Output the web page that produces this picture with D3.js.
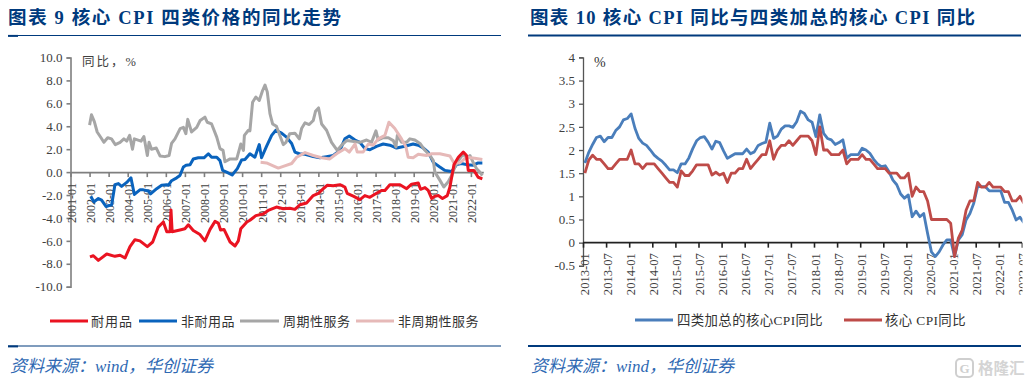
<!DOCTYPE html>
<html><head><meta charset="utf-8">
<script src="https://cdn.jsdelivr.net/npm/d3@7"></script>
<style>
html,body{margin:0;padding:0;background:#fff;overflow:hidden}
svg{display:block}
text{font-family:"Liberation Serif","Noto Sans CJK SC",serif}
</style></head><body><div id="c"></div>
<script>
// ---------- left chart: readings as [decimal year] + [YoY %]
const durableT=[2002.02,2002.2,2002.46,2002.9,2003.33,2003.6,2003.86,2004.12,2004.38,2004.64,2005.03,2005.31,2005.6,2005.87,2006.05,2006.22,2006.27,2006.33,2006.74,2007.0,2007.18,2007.44,2007.79,2008.05,2008.32,2008.58,2008.75,2008.87,2009.05,2009.37,2009.63,2009.8,2009.93,2010.25,2010.41,2010.72,2011.1,2011.37,2011.8,2012.16,2012.5,2012.77,2013.03,2013.38,2013.73,2014.0,2014.26,2014.46,2014.78,2015.13,2015.39,2015.51,2015.83,2016.18,2016.44,2016.7,2017.05,2017.31,2017.49,2017.75,2018.28,2018.63,2018.89,2019.24,2019.36,2019.59,2019.76,2019.94,2020.11,2020.29,2020.51,2020.76,2020.9,2021.11,2021.34,2021.6,2021.77,2021.86,2022.16,2022.38,2022.6];
const durableV=[-7.4,-7.3,-7.7,-7.15,-7.35,-7.25,-7.5,-6.5,-5.9,-6.0,-6.5,-6.1,-4.8,-4.35,-5.2,-5.2,-3.3,-5.2,-5.05,-4.95,-4.6,-5.1,-5.45,-6.0,-5.0,-4.3,-4.45,-5.05,-5.0,-6.1,-6.45,-6.0,-4.95,-4.35,-4.2,-3.8,-3.65,-3.35,-3.05,-3.2,-3.15,-3.25,-2.85,-2.7,-2.05,-1.85,-1.45,-1.15,-1.2,-1.1,-1.3,-1.85,-2.1,-2.4,-2.05,-2.2,-1.85,-1.6,-1.6,-1.1,-1.1,-1.45,-1.05,-0.95,-1.5,-1.35,-1.6,-2.3,-2.1,-2.05,-2.3,-2.05,-1.3,0.65,1.3,1.75,1.45,0.15,0.15,-0.45,-0.6];
const nonDurableT=[2002.06,2002.23,2002.46,2002.63,2002.86,2003.16,2003.33,2003.51,2003.68,2003.95,2004.17,2004.35,2004.64,2004.82,2005.08,2005.2,2005.52,2005.78,2006.05,2006.13,2006.3,2006.57,2006.74,2006.92,2007.06,2007.27,2007.44,2007.7,2008.0,2008.23,2008.4,2008.67,2008.84,2008.98,2009.19,2009.48,2009.75,2009.97,2010.15,2010.41,2010.67,2010.9,2011.02,2011.28,2011.55,2011.77,2012.07,2012.33,2012.6,2012.77,2013.0,2013.3,2013.73,2014.08,2014.43,2014.78,2015.13,2015.39,2015.62,2015.92,2016.18,2016.44,2016.7,2017.05,2017.4,2017.75,2018.1,2018.54,2018.97,2019.24,2019.5,2019.76,2020.03,2020.37,2020.64,2020.99,2021.25,2021.51,2021.77,2022.12,2022.38,2022.6];
const nonDurableV=[-2.1,-2.6,-2.3,-2.45,-3.0,-2.85,-1.1,-1.0,-1.25,-0.9,-0.5,-1.95,-1.55,-1.55,-1.65,-1.9,-1.45,-1.15,-1.1,-1.15,-0.75,-0.5,-0.3,0.45,0.6,0.65,1.15,1.25,1.25,1.6,1.3,1.3,1.0,0.15,0,-0.25,0.3,1.05,1.1,1.6,1.3,2.4,1.25,2.25,3.2,3.65,3.4,3.05,2.5,1.75,1.6,1.55,1.35,1.25,1.35,1.45,1.9,2.9,3.15,2.8,2.6,2.05,1.95,2.25,2.45,2.35,2.1,2.25,2.45,2.35,2.1,1.75,0.85,0.45,0.15,0.05,0.65,0.75,0.65,0.6,0.8,0.8];
const cyclicalT=[2002.0,2002.1,2002.25,2002.4,2002.6,2002.75,2002.95,2003.15,2003.35,2003.6,2003.8,2003.95,2004.1,2004.25,2004.35,2004.7,2004.85,2005.03,2005.12,2005.25,2005.5,2005.7,2005.95,2006.17,2006.3,2006.48,2006.75,2006.92,2007.05,2007.15,2007.35,2007.62,2007.8,2008.05,2008.17,2008.4,2008.67,2008.84,2009.0,2009.1,2009.37,2009.72,2009.93,2010.07,2010.12,2010.33,2010.41,2010.55,2010.72,2010.9,2011.07,2011.2,2011.32,2011.46,2011.6,2011.8,2011.98,2012.16,2012.3,2012.5,2012.77,2013.0,2013.12,2013.3,2013.52,2013.73,2013.85,2014.01,2014.17,2014.43,2014.69,2014.99,2015.22,2015.48,2016.18,2016.53,2016.79,2017.02,2017.14,2017.4,2017.67,2017.93,2018.07,2018.14,2018.36,2018.63,2018.8,2019.06,2019.33,2019.59,2019.85,2020.03,2020.11,2020.37,2020.58,2020.81,2020.99,2021.16,2021.34,2021.6,2021.77,2021.95,2022.16,2022.3,2022.47,2022.6];
const cyclicalV=[4.1,5.0,4.4,3.5,3.0,2.6,3.0,2.9,2.4,2.6,2.9,2.7,3.2,2.0,2.9,2.7,3.1,1.45,2.6,2.0,2.1,1.4,1.35,1.45,2.5,2.9,3.8,3.9,3.35,4.6,3.5,3.9,4.5,4.8,4.35,4.2,3.05,2.05,1.9,0.9,1.15,1.15,2.45,1.9,3.2,3.65,3.6,6.1,6.55,6.25,7.1,7.6,7.0,5.1,4.2,4.0,3.2,2.4,2.6,3.35,3.4,2.9,3.8,4.3,4.15,4.5,5.3,5.6,4.2,3.65,2.6,1.9,2.35,2.75,2.6,2.8,2.6,3.6,2.8,3.0,3.0,2.75,2.2,3.2,2.6,2.6,2.9,2.8,2.5,1.9,1.45,1.0,0,-0.7,-1.3,-0.85,-0.3,0.45,1.0,1.6,1.15,1.45,0.7,0.3,0,-0.3];
const nonCyclicalT=[2010.97,2011.28,2011.63,2011.9,2012.16,2012.6,2012.86,2013.3,2013.73,2014.17,2014.6,2014.95,2015.39,2015.62,2015.92,2016.04,2016.35,2016.62,2016.88,2017.14,2017.49,2017.7,2018.01,2018.36,2018.59,2018.71,2018.97,2019.24,2019.67,2019.94,2020.37,2020.9,2021.11,2021.42,2021.77,2022.2,2022.6];
const nonCyclicalV=[0.85,0.8,0.55,0.35,0.5,0.75,1.3,1.7,1.45,1.25,1.15,1.6,2.05,1.75,2.45,1.75,1.75,2.45,2.35,2.9,3.2,4.35,3.8,2.9,2.2,1.3,1.25,1.55,1.45,1.6,1.6,1.4,0.8,0.8,1.3,1.2,1.1];
const leftYTicks=[10,8,6,4,2,0,-2,-4,-6,-8,-10];
const leftYears=d3.range(2001,2023);
const leftLegend=["耐用品","非耐用品","周期性服务","非周期性服务"];

// ---------- right chart: monthly from 2013-01
const fourTypeCore=[1.72,1.95,2.12,2.27,2.3,2.18,2.27,2.27,2.42,2.5,2.65,2.68,2.78,2.47,2.25,2.15,2.1,2.0,1.89,1.82,1.76,1.67,1.57,1.57,1.51,1.7,1.7,1.83,2.03,2.2,2.27,2.29,2.17,2.02,2.19,2.16,1.98,1.82,1.87,1.92,1.92,1.92,2.02,1.92,1.96,2.1,2.14,2.17,2.58,2.25,2.3,2.45,2.52,2.52,2.49,2.61,2.84,2.79,2.65,2.6,2.29,2.76,2.36,2.25,2.22,2.12,2.16,2.22,1.82,1.9,1.9,1.9,2.04,2.0,1.93,1.8,1.7,1.64,1.66,1.53,1.35,1.25,1.05,0.96,1.03,0.56,0.68,0.56,0.63,0.2,-0.2,-0.3,-0.2,-0.05,0.06,0.06,-0.3,0.06,0.17,0.49,0.63,0.85,1.21,1.21,1.21,1.12,1.12,1.12,1.12,0.87,0.87,0.7,0.49,0.55,0.43];
const coreCpi=[1.5,1.78,1.89,1.8,1.8,1.7,1.6,1.6,1.7,1.8,1.8,1.8,2.0,1.7,1.7,1.6,1.7,1.7,1.7,1.6,1.5,1.4,1.3,1.3,1.2,1.55,1.45,1.45,1.55,1.68,1.68,1.68,1.68,1.46,1.52,1.46,1.5,1.3,1.5,1.5,1.6,1.6,1.8,1.6,1.7,1.8,1.9,1.9,2.2,1.8,2.0,2.1,2.1,2.2,2.1,2.2,2.3,2.3,2.3,2.2,1.9,2.5,2.0,2.0,1.9,1.9,1.9,2.0,1.7,1.8,1.8,1.8,1.9,1.8,1.8,1.7,1.6,1.6,1.6,1.5,1.5,1.5,1.4,1.4,1.5,1.0,1.2,1.1,1.1,0.9,0.5,0.5,0.5,0.5,0.5,0.42,-0.3,0.1,0.27,0.7,0.9,0.9,1.3,1.2,1.2,1.3,1.2,1.2,1.2,1.1,1.1,0.9,0.9,1.0,0.85];
const rightYTicks=[4,3.5,3,2.5,2,1.5,1,0.5,0,-0.5];
const rightMonths=d3.range(0,fourTypeCore.length+1);
const rightLegend=["四类加总的核心CPI同比","核心 CPI同比"];
const monthLabel=m=>`${2013+Math.floor(m/12)}-${String(m%12+1).padStart(2,"0")}`;

const W=1030,H=384;
const NAVY="#003a7d",TXT="#404040";
const CJK='"Liberation Serif","Noto Sans CJK SC",serif';
const svg=d3.select("#c").append("svg").attr("width",W).attr("height",H);
svg.append("defs").append("clipPath").attr("id","edge").append("rect").attr("x",0).attr("y",0).attr("width",1022.5).attr("height",H);

function title(x,t,len){
  svg.append("text").attr("x",x).attr("y",24).attr("fill",NAVY).attr("font-size",18.5).attr("font-weight",700)
    .attr("textLength",len).attr("lengthAdjust","spacing").text(t);
}
function rules(x0,x1,thick){
  [35.5,346].forEach(y=>{
    svg.append("line").attr("x1",x0).attr("x2",x1).attr("y1",y).attr("y2",y).attr("stroke",NAVY).attr("stroke-width",thick);
  });
}
function source(x){
  svg.append("text").attr("x",x).attr("y",372).attr("fill","#2f69b3").attr("font-size",17).attr("font-style","italic")
    .text("资料来源：wind，华创证券");
}
title(8,"图表 9  核心 CPI 四类价格的同比走势",333);
title(530,"图表 10  核心 CPI 同比与四类加总的核心 CPI 同比",445);
rules(8,501,1.2);
[35.5,346].forEach(y=>svg.append("rect").attr("x",8).attr("y",y-0.6).attr("width",10).attr("height",2).attr("fill",NAVY));
rules(528,1021,2);
source(10); source(531);

// ---------- left chart
const xL=d3.scaleLinear().domain([2001,2022.65]).range([70.5,483.3]);
const yL=d3.scaleLinear().domain([-10,10]).range([286.7,57.5]);
const gL=svg.append("g");
const yAxL=gL.append("g").attr("transform",`translate(70.5,0)`)
  .call(d3.axisLeft(yL).tickValues(leftYTicks).tickFormat(d3.format(".1f")).tickSize(4));
yAxL.selectAll("text").attr("font-size",13).attr("fill",TXT).attr("font-family",CJK).attr("dx",-1).text(d=>d3.format(".1f")(d).replace("−","-"));
yAxL.selectAll("line,path").attr("stroke","#7f7f7f").attr("stroke-width",1.6);
const xAxL=gL.append("g").attr("transform",`translate(0,${yL(0)})`)
  .call(d3.axisBottom(xL).tickValues(leftYears).tickFormat(d=>d+"-01").tickSize(5).tickSizeOuter(0));
xAxL.selectAll("path,line").attr("stroke","#7f7f7f").attr("stroke-width",1.6);
xAxL.selectAll("text").attr("font-size",12).attr("fill",TXT).attr("font-family",CJK)
  .attr("transform","rotate(-90)").attr("text-anchor","end").attr("x",-11).attr("y",1).attr("dy","0.32em");
gL.append("text").attr("x",82).attr("y",66).attr("font-size",12.5).attr("fill",TXT).attr("letter-spacing",2).text("同比，%");

const lineXY=(xs,ys,sx,sy)=>d3.line().x((d,i)=>sx(xs[i])).y((d,i)=>sy(ys[i])).curve(d3.curveLinear)(ys);
const leftSeries=[
 [nonDurableT,nonDurableV,"#0a63bd"],
 [cyclicalT,cyclicalV,"#a6a6a6"],
 [nonCyclicalT,nonCyclicalV,"#e6b9b8"],
 [durableT,durableV,"#ea1321"]];
leftSeries.forEach(([t,v,c])=>gL.append("path").attr("d",lineXY(t,v,xL,yL)).attr("fill","none").attr("stroke",c).attr("stroke-width",3).attr("stroke-linejoin","round"));

function legendItem(x0,x1,tx,y,color,label,size,sp,w){
  svg.append("line").attr("x1",x0).attr("x2",x1).attr("y1",y).attr("y2",y).attr("stroke",color).attr("stroke-width",3);
  svg.append("text").attr("x",tx).attr("y",y+4.5).attr("font-size",size).attr("fill","#333").attr("letter-spacing",sp).text(label);
}
legendItem(50,88,91,321,"#ea1321",leftLegend[0],13,1);
legendItem(139,177,181,321,"#0a63bd",leftLegend[1],13,0.5);
legendItem(240,279,283,321,"#a6a6a6",leftLegend[2],13,0.5);
legendItem(356,394,398,321,"#e6b9b8",leftLegend[3],13,0.5);

// ---------- right chart
const stepR=3.85;
const xR=d3.scaleLinear().domain([0,1]).range([583,583+stepR]);
const yR=d3.scaleLinear().domain([-0.5,4]).range([265.8,57.4]);
const gR=svg.append("g").attr("clip-path","url(#edge)");
const yAxR=gR.append("g").attr("transform","translate(583,0)")
  .call(d3.axisLeft(yR).tickValues(rightYTicks).tickFormat(d=>String(d)).tickSize(4));
yAxR.selectAll("text").attr("font-size",13).attr("fill",TXT).attr("font-family",CJK).attr("dx",-1);
yAxR.selectAll("line,path").attr("stroke","#555").attr("stroke-width",1.3);
const ticksR=rightMonths.filter(m=>m%6===0);
const xAxR=gR.append("g").attr("transform",`translate(0,${yR(0)})`)
  .call(d3.axisBottom(xR).tickValues(ticksR).tickFormat(monthLabel).tickSize(5).tickSizeOuter(0));
xAxR.select("path").attr("d",`M583,0H1022`);
xAxR.selectAll("path,line").attr("stroke","#222").attr("stroke-width",1.6);
xAxR.selectAll("text").attr("font-size",12.6).attr("fill",TXT).attr("font-family",CJK)
  .attr("transform","rotate(-90)").attr("text-anchor","end").attr("x",-10.5).attr("y",1).attr("dy","0.32em");
gR.append("text").attr("x",594).attr("y",67).attr("font-size",14).attr("fill","#333").text("%");
const monthsData=fourTypeCore.map((d,i)=>i+0.5);
[[fourTypeCore,"#4a7ebb"],[coreCpi,"#be4b48"]].forEach(([v,c])=>
  gR.append("path").attr("d",lineXY(monthsData,v,xR,yR)).attr("fill","none").attr("stroke",c).attr("stroke-width",2.8).attr("stroke-linejoin","round"));
legendItem(635,673,677,320,"#4a7ebb",rightLegend[0],13.4,0.4);
legendItem(844,882,885,320,"#be4b48",rightLegend[1],13.4,0.4);

// ---------- watermark
const wm=svg.append("g");
wm.append("rect").attr("x",956).attr("y",359).attr("width",17).attr("height",18).attr("rx",4).attr("fill","none").attr("stroke","#cfcfcf").attr("stroke-width",2);
wm.append("text").attr("x",964.5).attr("y",373).attr("text-anchor","middle").attr("font-size",13).attr("font-weight",700).attr("fill","#cfcfcf").attr("font-family","Liberation Sans").text("G");
wm.append("text").attr("x",978).attr("y",374).attr("font-size",15.5).attr("font-weight",700).attr("fill","#d4d4d4").attr("font-family","Noto Sans CJK SC").text("格隆汇");
</script></body></html>
